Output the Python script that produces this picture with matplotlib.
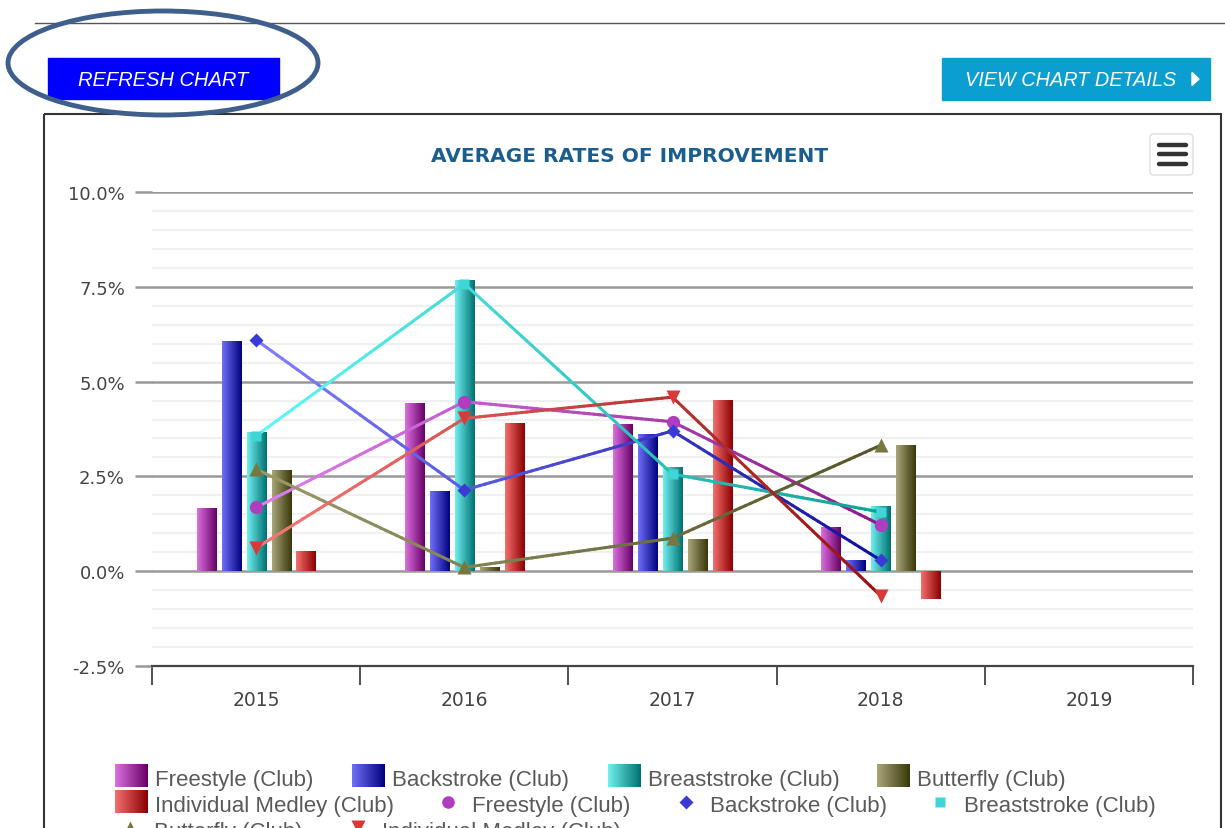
import numpy as np
import matplotlib
matplotlib.use('Agg')
import matplotlib.pyplot as plt
from matplotlib.patches import Rectangle, Ellipse, FancyBboxPatch, Polygon
from matplotlib.collections import LineCollection
from matplotlib.colors import to_rgb

W, H = 1225, 829

# ---- data ----
years = ['2015', '2016', '2017', '2018', '2019']
series_names = ['Freestyle (Club)', 'Backstroke (Club)', 'Breaststroke (Club)',
                'Butterfly (Club)', 'Individual Medley (Club)']

# columns, 2015-2018 (2019 has no data)
freestyle_bar = [1.65, 4.42, 3.86, 1.16]
backstroke_bar = [6.05, 2.09, 3.59, 0.27]
breaststroke_bar = [3.64, 7.65, 2.72, 1.70]
butterfly_bar = [2.65, 0.10, 0.84, 3.31]
medley_bar = [0.52, 3.90, 4.49, -0.72]

# line series, 2015-2018
freestyle_line = [1.68, 4.47, 3.94, 1.22]
backstroke_line = [6.10, 2.14, 3.70, 0.29]
breaststroke_line = [3.57, 7.58, 2.56, 1.56]
butterfly_line = [2.69, 0.10, 0.87, 3.32]
medley_line = [0.61, 4.03, 4.59, -0.65]

bar_values = [freestyle_bar, backstroke_bar, breaststroke_bar, butterfly_bar, medley_bar]
line_values = [freestyle_line, backstroke_line, breaststroke_line, butterfly_line, medley_line]

# ---- styles ----
bar_grad = [('#dc70e0', '#660066'), ('#7070f8', '#00007f'), ('#70f0f0', '#007070'),
            ('#aaa67a', '#38380a'), ('#f47070', '#8b0000')]
line_grad = [('#e080f0', '#8a1a8a'), ('#8080ff', '#1010a0'), ('#60f8f8', '#10a098'),
             ('#9a9a6a', '#55552a'), ('#f87878', '#981010')]
marker_colors = ['#b03cc0', '#3a3ad6', '#3ed6d6', '#77773f', '#d83a3a']
markers = ['o', 'D', 's', '^', 'v']
marker_sizes = [9.5, 7, 7.5, 10, 10]


def ramp(c0, c1, n=128):
    a, b = np.array(to_rgb(c0)), np.array(to_rgb(c1))
    t = np.linspace(0, 1, n)[None, :, None]
    return np.repeat(a + (b - a) * t, 4, axis=0)


fig = plt.figure(figsize=(W / 100, H / 100), dpi=100, facecolor='white')

# page layer in pixel coordinates
bg = fig.add_axes([0, 0, 1, 1], zorder=0)
bg.axis('off')

bg.plot([35, W], [24, 24], color='#555555', lw=1)
bg.add_patch(Rectangle((44, 115), 1221 - 44, 900, fill=False, ec='#333333', lw=1.5))

# buttons
bg.add_patch(Rectangle((48, 59), 231, 41, color='#0000ff'))
bg.text(163.5, 80, 'REFRESH CHART', color='white', fontsize=14.5, style='italic',
        family='Liberation Sans', ha='center', va='center')
bg.add_patch(Rectangle((942, 59), 268, 42, color='#0a9fd0'))
bg.text(1071, 80, 'VIEW CHART DETAILS', color='white', fontsize=14.3, style='italic',
        family='Liberation Sans', ha='center', va='center')
bg.add_patch(Polygon([(1192, 73.5), (1192, 86.5), (1199, 80)], closed=True, color='white'))
bg.add_patch(Ellipse((163, 64), 310, 104, fill=False, ec='#3e5f8c', lw=3.5, zorder=10))

# menu icon
bg.add_patch(FancyBboxPatch((1150, 135), 43, 41, boxstyle='round,pad=0,rounding_size=4',
                            fc='white', ec='#dddddd', lw=1))
for yy in [145.5, 155, 164.5]:
    bg.plot([1159, 1186], [yy, yy], color='#333333', lw=3.2, solid_capstyle='round')

# title
bg.text(630, 156, 'AVERAGE RATES OF IMPROVEMENT', color='#1b5e8e', fontsize=14.5,
        fontweight='heavy', family='DejaVu Sans', ha='center', va='center')

# ---- legend (row-wise flow, like the original) ----
leg_font = dict(family='Liberation Sans', fontsize=16, color='#5a5a5a', va='baseline')
row_base = [786, 812, 838]
row_mid = [777, 803, 829]
# bar entries: (series, row, box left)
bar_entries = [(0, 0, 115), (1, 0, 352), (2, 0, 608), (3, 0, 877), (4, 1, 115)]
for s, r, x0 in bar_entries:
    bg.imshow(ramp(*bar_grad[s]), extent=[x0, x0 + 33, row_mid[r] + 11.5, row_mid[r] - 11.5],
              aspect='auto', interpolation='nearest', zorder=2)
    bg.text(x0 + 40, row_base[r], series_names[s], **leg_font)
# marker entries: (series, row, marker centre)
marker_entries = [(0, 1, 448), (1, 1, 686), (2, 1, 940), (3, 2, 130), (4, 2, 358)]
for s, r, xc in marker_entries:
    bg.plot([xc], [row_mid[r] + (-1 if markers[s] == 'v' else 0)], markers[s],
            color=marker_colors[s], ms=marker_sizes[s] * 0.95, mec='none')
    bg.text(xc + 24, row_base[r], series_names[s], **leg_font)

bg.set_xlim(0, W)
bg.set_ylim(H, 0)

# ---- chart ----
ax = fig.add_axes([152 / W, (H - 667) / H, (1193 - 152) / W, (667 - 193) / H], zorder=1)
ax.set_facecolor('none')

x = np.arange(len(freestyle_bar))
step, width = 0.12, 0.092
for i, vals in enumerate(bar_values):
    bars = ax.bar(x + (i - 2) * step, vals, width, facecolor='none',
                  edgecolor='none', zorder=3)
    for p in bars:
        bx, by, bw, bh = p.get_x(), p.get_y(), p.get_width(), p.get_height()
        ax.imshow(ramp(*bar_grad[i]), extent=[bx, bx + bw, min(by, by + bh), max(by, by + bh)],
                  aspect='auto', interpolation='nearest', zorder=2)

for i, vals in enumerate(line_values):
    xs = np.arange(len(vals), dtype=float)
    ys = np.array(vals, dtype=float)
    # split each straight segment into short pieces so the stroke can carry a gradient
    pts = []
    for k in range(len(xs) - 1):
        t = np.linspace(0, 1, 40, endpoint=False)
        pts.append(np.column_stack([xs[k] + (xs[k + 1] - xs[k]) * t, ys[k] + (ys[k + 1] - ys[k]) * t]))
    pts.append([[xs[-1], ys[-1]]])
    pts = np.vstack(pts)
    segs = np.stack([pts[:-1], pts[1:]], axis=1)
    frac = (segs[:, :, 0].mean(axis=1) - xs[0]) / (xs[-1] - xs[0])
    c0, c1 = np.array(to_rgb(line_grad[i][0])), np.array(to_rgb(line_grad[i][1]))
    cols = c0 + (c1 - c0) * frac[:, None]
    ax.add_collection(LineCollection(segs, colors=cols, linewidths=2.2,
                                     capstyle='round', zorder=4))
    ax.plot(xs, ys, markers[i], color=marker_colors[i], ms=marker_sizes[i], mec='none', zorder=5)

ax.set_xlim(-0.5, 4.5)
ax.set_ylim(-2.5, 10)

yt = np.arange(-2.5, 10.01, 2.5)
ax.set_yticks(yt)
ax.set_yticklabels([f'{v:.1f}%' for v in yt])
ax.set_yticks([v for v in np.arange(-2.5, 10.01, 0.5) if abs(v / 2.5 - round(v / 2.5)) > 1e-6],
              minor=True)
ax.tick_params(axis='y', which='major', length=12.5, width=1.8, color='#999999',
               labelsize=13, labelcolor='#444444', pad=7)
ax.tick_params(axis='y', which='minor', length=0)
ax.grid(axis='y', which='major', color='#999999', lw=1.8)
ax.grid(axis='y', which='minor', color='#f0f0f0', lw=1.6)

ax.set_xticks(range(len(years)))
ax.set_xticklabels(years)
ax.set_xticks(np.arange(-0.5, 4.51, 1), minor=True)
ax.tick_params(axis='x', which='major', length=0, labelsize=13.5, labelcolor='#444444', pad=17.5)
ax.tick_params(axis='x', which='minor', length=14, width=1.2, color='#333333')

for side in ['top', 'right', 'left']:
    ax.spines[side].set_visible(False)
ax.spines['bottom'].set_color('#444444')
ax.spines['bottom'].set_linewidth(1.6)

fig.savefig('out.png', dpi=100)
